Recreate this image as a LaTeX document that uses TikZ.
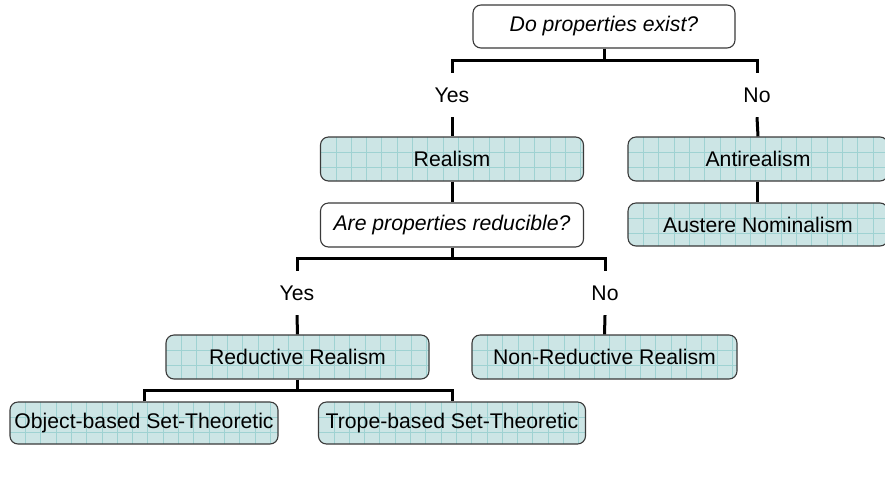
\documentclass[tikz,border=0pt]{standalone}
\usepackage{fontspec}
\setmainfont{Liberation Sans}
\definecolor{boxfill}{HTML}{CCE5E5}
\definecolor{gridcol}{HTML}{9FD2D2}
\definecolor{boxdraw}{HTML}{3A3A3A}
\begin{document}
\begin{tikzpicture}[x=1pt,y=-1pt,
  every node/.style={font=\fontsize{21.2}{24}\selectfont, inner sep=0pt},
  qbox/.style={draw=boxdraw, line width=1.1pt, rounded corners=8pt, fill=white,
    font=\fontsize{21.2}{24}\selectfont\itshape, minimum width=262pt, minimum height=43pt},
  gbox/.style={draw=boxdraw, line width=1.1pt, rounded corners=8pt, fill=boxfill,
    minimum height=42pt,
    path picture={
      \foreach \i in {1,...,19}
        \draw[gridcol, line width=0.6pt]
          ([xshift=\i*15.3pt]path picture bounding box.north west) --
          ([xshift=\i*15.3pt]path picture bounding box.south west);
      \foreach \j in {1,2,3}
        \draw[gridcol, line width=0.6pt]
          ([yshift=-\j*15.3pt]path picture bounding box.north west) --
          ([yshift=-\j*15.3pt]path picture bounding box.north east);
    }},
  lbl/.style={minimum height=44pt},
  conn/.style={line width=3pt, line join=miter}]
\useasboundingbox (0,0) rectangle (885,483);

\node[qbox] (q1) at (604,26.5) {Do properties exist?};
\node[lbl] (yes1) at (452,95) {Yes};
\node[lbl] (no1) at (757,95) {No};
\node[gbox, minimum width=263pt, minimum height=44pt] (realism) at (452,159) {Realism};
\node[gbox, minimum width=260pt, minimum height=44pt] (anti) at (758,159) {Antirealism};
\node[qbox, minimum width=263pt, minimum height=44pt] (q2) at (452,225) {Are properties reducible?};
\node[gbox, minimum width=260pt, minimum height=43pt] (austere) at (758,224.5) {Austere Nominalism};
\node[lbl] (yes2) at (297,293) {Yes};
\node[lbl] (no2) at (605,293) {No};
\node[gbox, minimum width=263pt, minimum height=44pt] (reductive) at (297.5,357) {Reductive Realism};
\node[gbox, minimum width=265pt, minimum height=44pt] (nonred) at (604.5,357) {Non-Reductive Realism};
\node[gbox, minimum width=268pt, minimum height=42pt] (object) at (144,423) {Object-based Set-Theoretic};
\node[gbox, minimum width=267pt, minimum height=42pt] (trope) at (452,423) {Trope-based Set-Theoretic};

\coordinate (b1) at (604,60);
\coordinate (b2) at (452,258);
\coordinate (b3) at (297.5,390);

\draw[conn] (q1.south) -- (b1);
\draw[conn] (yes1.north) |- (b1) -| (no1.north);
\draw[conn] (yes1.south) -- (realism.north);
\draw[conn] (no1.south) -- (anti.north);
\draw[conn] (realism.south) -- (q2.north);
\draw[conn] ([xshift=-1pt]anti.south) -- ([xshift=-1pt]austere.north);
\draw[conn] (q2.south) -- (b2);
\draw[conn] (yes2.north) |- (b2) -| (no2.north);
\draw[conn] (yes2.south) -- (reductive.north);
\draw[conn] (no2.south) -- (nonred.north);
\draw[conn] (reductive.south) -- (b3);
\draw[conn] (object.north) |- (b3) -| (trope.north);
\end{tikzpicture}
\end{document}
